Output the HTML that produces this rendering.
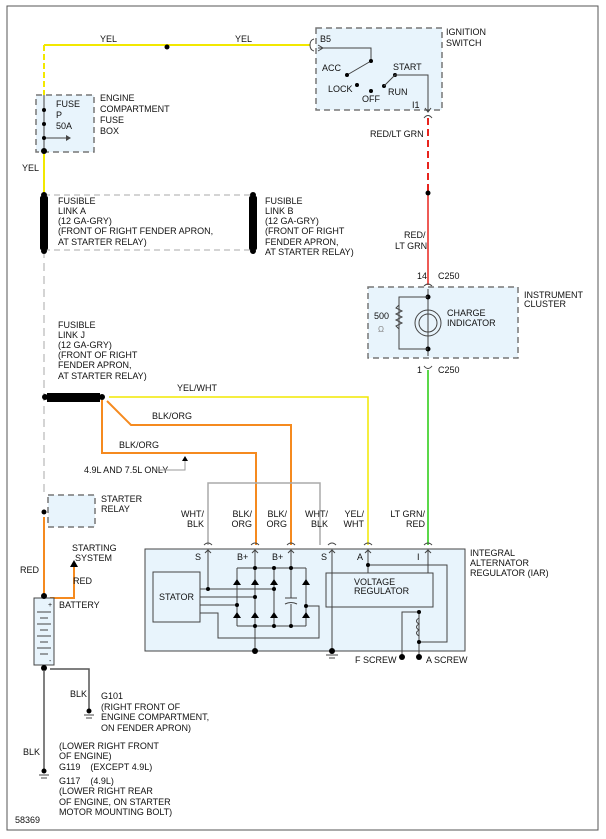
<!DOCTYPE html>
<html><head><style>
html,body{margin:0;padding:0;background:#fff}
svg{display:block}
text{font-family:"Liberation Sans",sans-serif;font-size:9px;fill:#111}
</style></head><body>
<svg width="606" height="839" viewBox="0 0 606 839" xmlns="http://www.w3.org/2000/svg">
<rect x="7" y="6" width="591" height="824" fill="none" stroke="#555" stroke-width="1"/>
<g fill="#e8f4fc" stroke="#777" stroke-width="1.5" stroke-dasharray="6,4">
<rect x="316" y="28" width="126" height="82"/>
<rect x="36" y="95" width="58" height="57"/>
<rect x="368" y="287" width="150" height="71"/>
<rect x="48" y="495" width="47" height="32"/>
</g>
<line x1="44" y1="195" x2="253" y2="195" stroke="#aaa" stroke-dasharray="6,4"/>
<line x1="44" y1="250" x2="253" y2="250" stroke="#aaa" stroke-dasharray="6,4"/>
<line x1="44" y1="250" x2="44" y2="495" stroke="#aaa" stroke-dasharray="8,5"/>
<line x1="44" y1="527" x2="44" y2="540" stroke="#aaa" stroke-dasharray="8,5"/>
<!-- yellow -->
<line x1="310" y1="45" x2="44" y2="45" stroke="#f2e800" stroke-width="2"/>
<line x1="44" y1="45" x2="44" y2="95" stroke="#f2e800" stroke-width="2" stroke-dasharray="6,3"/>
<line x1="44" y1="152" x2="44" y2="195" stroke="#f2e800" stroke-width="2"/>
<circle cx="167" cy="47" r="2.5" fill="#000"/>
<text x="100" y="42">YEL</text><text x="235" y="42">YEL</text><text x="22" y="171">YEL</text>
<!-- fuse -->
<line x1="44" y1="95" x2="44" y2="152" stroke="#444"/>
<line x1="44" y1="138" x2="70" y2="138" stroke="#444"/><path d="M66,135 L71,138 L66,141Z" fill="#444"/>
<circle cx="44" cy="110" r="2" fill="#000"/><circle cx="44" cy="124" r="2" fill="#000"/><circle cx="44" cy="138" r="2" fill="#000"/><circle cx="44" cy="151" r="3" fill="#000"/>
<text x="56" y="107">FUSE</text><text x="56" y="118">P</text><text x="56" y="129">50A</text>
<text x="100" y="101">ENGINE</text><text x="100" y="112">COMPARTMENT</text><text x="100" y="123">FUSE</text><text x="100" y="134">BOX</text>
<!-- fusible links -->
<rect x="40" y="196" width="8" height="54" rx="2" fill="#000"/><circle cx="44" cy="195" r="3" fill="#000"/><circle cx="44" cy="251" r="3" fill="#000"/>
<rect x="249" y="196" width="8" height="54" rx="2" fill="#000"/><circle cx="253" cy="195" r="3" fill="#000"/><circle cx="253" cy="251" r="3" fill="#000"/>
<text x="58" y="204">FUSIBLE</text><text x="58" y="214">LINK A</text><text x="58" y="224">(12 GA-GRY)</text><text x="58" y="234">(FRONT OF RIGHT FENDER APRON,</text><text x="58" y="245">AT STARTER RELAY)</text>
<text x="265" y="204">FUSIBLE</text><text x="265" y="214">LINK B</text><text x="265" y="224">(12 GA-GRY)</text><text x="265" y="234">(FRONT OF RIGHT</text><text x="265" y="245">FENDER APRON,</text><text x="265" y="255">AT STARTER RELAY)</text>
<text x="58" y="328">FUSIBLE</text><text x="58" y="338">LINK J</text><text x="58" y="348">(12 GA-GRY)</text><text x="58" y="358">(FRONT OF RIGHT</text><text x="58" y="368">FENDER APRON,</text><text x="58" y="379">AT STARTER RELAY)</text>
<rect x="47" y="393" width="53" height="9" fill="#000"/><circle cx="45" cy="397" r="3" fill="#000"/><circle cx="102" cy="397" r="3" fill="#000"/>
<!-- wires from J -->
<polyline points="109,397 368,397 368,545" fill="none" stroke="#f2e800" stroke-width="1.5"/>
<polyline points="107,401 131,425 291,425 291,545" fill="none" stroke="#f58a1f" stroke-width="2"/>
<polyline points="102,400 102,453 256,453 256,545" fill="none" stroke="#f58a1f" stroke-width="2"/>
<text x="177" y="391">YEL/WHT</text><text x="152" y="419">BLK/ORG</text><text x="119" y="448">BLK/ORG</text>
<text x="84" y="473">4.9L AND 7.5L ONLY</text>
<polyline points="152,470 185,470 185,460" fill="none" stroke="#999"/><path d="M182,461 L185,456 L188,461Z" fill="#000"/>
<polyline points="208,545 208,483 320,483 320,545" fill="none" stroke="#aaa" stroke-width="1.5"/>
<!-- ignition -->
<polyline points="428,118 428,193" stroke="#e8241d" stroke-width="2" stroke-dasharray="7,4" fill="none"/>
<line x1="428" y1="193" x2="428" y2="285" stroke="#e8241d" stroke-width="1.5"/>
<circle cx="428" cy="193" r="2.5" fill="#000"/>
<text x="370" y="137">RED/LT GRN</text><text x="404" y="238">RED/</text><text x="395" y="249">LT GRN</text>
<path d="M310,45 q0,-5 4,-6 M310,45 q0,5 4,6" stroke="#444" fill="none"/>
<polyline points="318,48 371,48 371,61 347,75" fill="none" stroke="#444"/><path d="M318,45 L323,48 L318,51" fill="none" stroke="#444"/>
<circle cx="371" cy="61" r="2" fill="#000"/><circle cx="347" cy="75" r="2" fill="#000"/>
<circle cx="357" cy="85" r="2" fill="#000"/><circle cx="371" cy="91" r="2" fill="#000"/><circle cx="384" cy="86" r="2" fill="#000"/><circle cx="395" cy="75" r="2" fill="#000"/>
<polyline points="384,86 395,75 428,75 428,112" fill="none" stroke="#444"/><path d="M425,108 L428,112 L431,108" fill="none" stroke="#444"/>
<path d="M424,118 q4,-5 8,0" stroke="#444" fill="none"/>
<text x="320" y="42">B5</text><text x="322" y="71">ACC</text><text x="328" y="92">LOCK</text><text x="362" y="102">OFF</text><text x="388" y="95">RUN</text><text x="393" y="70">START</text><text x="412" y="108">I1</text>
<text x="446" y="35">IGNITION</text><text x="446" y="46">SWITCH</text>
<!-- cluster -->
<text x="417" y="279">14</text><text x="438" y="279">C250</text>
<path d="M424,286 q4,-4 8,0" stroke="#444" fill="none"/>
<line x1="428" y1="289" x2="428" y2="356" stroke="#444"/>
<circle cx="428" cy="297" r="2.5" fill="#000"/><circle cx="428" cy="349" r="2.5" fill="#000"/>
<polyline points="428,297 399,297 399,349 428,349" fill="none" stroke="#444"/>
<path d="M399,305 l-3,3 6,3 -6,3 6,3 -6,3 6,3 -6,3 3,3" stroke="#444" fill="none"/>
<circle cx="428" cy="323" r="13" fill="none" stroke="#444"/><circle cx="428" cy="323" r="9" fill="none" stroke="#444"/>
<text x="374" y="319">500</text><text x="378" y="332" style="font-size:8px;fill:#888">Ω</text>
<text x="447" y="316">CHARGE</text><text x="447" y="326">INDICATOR</text>
<text x="524" y="298">INSTRUMENT</text><text x="524" y="307">CLUSTER</text>
<text x="417" y="373">1</text><text x="438" y="373">C250</text>
<path d="M424,366 q4,5 8,0" stroke="#444" fill="none"/>
<line x1="428" y1="370" x2="428" y2="545" stroke="#5bd84a" stroke-width="2"/>
<!-- wire labels alt -->
<g text-anchor="end"><text x="204" y="517">WHT/</text><text x="204" y="527">BLK</text>
<text x="252" y="517">BLK/</text><text x="252" y="527">ORG</text>
<text x="287" y="517">BLK/</text><text x="287" y="527">ORG</text>
<text x="328" y="517">WHT/</text><text x="328" y="527">BLK</text>
<text x="364" y="517">YEL/</text><text x="364" y="527">WHT</text>
<text x="425" y="517">LT GRN/</text><text x="425" y="527">RED</text></g>
<!-- alternator -->
<rect x="145" y="549" width="320" height="102" fill="#e8f4fc" stroke="#444"/>
<g stroke="#444" fill="none">
<path d="M204,545 q4,-4 8,0 M251,545 q4,-4 8,0 M287,545 q4,-4 8,0 M328,545 q4,-4 8,0 M364,545 q4,-4 8,0 M424,545 q4,-4 8,0"/>
<path d="M205,553 L208,550 L211,553 M252,553 L255,550 L258,553 M288,553 L291,550 L294,553 M329,553 L332,550 L335,553 M365,553 L368,550 L371,553 M425,553 L428,550 L431,553"/>
<rect x="153" y="572" width="47" height="50"/>
<polyline points="208,550 208,589 200,589"/>
<line x1="200" y1="589" x2="274" y2="589"/>
<line x1="200" y1="597" x2="255" y2="597"/>
<line x1="200" y1="605" x2="237" y2="605"/>
<polyline points="200,613 218,613 218,638 319,638 319,606 306,606"/>
<line x1="237" y1="568" x2="306" y2="568"/><line x1="237" y1="626" x2="306" y2="626"/>
<line x1="237" y1="568" x2="237" y2="626"/><line x1="255" y1="550" x2="255" y2="651"/><line x1="274" y1="568" x2="274" y2="626"/><line x1="306" y1="568" x2="306" y2="626"/>
<line x1="291" y1="550" x2="291" y2="598"/><line x1="291" y1="604" x2="291" y2="626"/>
<line x1="285" y1="598" x2="297" y2="598"/><path d="M285,604 q6,-3 12,0"/>
<line x1="332" y1="550" x2="332" y2="651"/>
<line x1="255" y1="651" x2="332" y2="651"/>
<rect x="326" y="573" width="107" height="34"/>
<polyline points="368,550 368,573"/><polyline points="368,565 447,565 447,642 419,642"/>
<line x1="428" y1="550" x2="428" y2="573"/>
<polyline points="402,657 402,612 419,612 419,657"/>
<path d="M419,618 q-5,3 0,6 q-5,3 0,6 q-5,3 0,6" stroke="#444"/>
<line x1="326" y1="655" x2="338" y2="655"/><line x1="329" y1="658" x2="335" y2="658"/>
</g>
<g fill="#000">
<path d="M233,585 h8 l-4,-6z M251,585 h8 l-4,-6z M270,585 h8 l-4,-6z M302,585 h8 l-4,-6z M233,618 h8 l-4,-6z M251,618 h8 l-4,-6z M270,618 h8 l-4,-6z M302,618 h8 l-4,-6z"/>
<circle cx="255" cy="568" r="2"/><circle cx="274" cy="568" r="2"/><circle cx="291" cy="568" r="2"/>
<circle cx="208" cy="589" r="2"/><circle cx="274" cy="589" r="2"/><circle cx="255" cy="597" r="2"/><circle cx="237" cy="605" r="2"/><circle cx="306" cy="606" r="2"/>
<circle cx="255" cy="626" r="2"/><circle cx="274" cy="626" r="2"/><circle cx="291" cy="626" r="2"/>
<circle cx="255" cy="651" r="3"/><circle cx="332" cy="651" r="3"/><circle cx="368" cy="565" r="2"/>
<circle cx="419" cy="612" r="2"/><circle cx="419" cy="642" r="2"/><circle cx="402" cy="657" r="3"/><circle cx="419" cy="657" r="3"/>
</g>
<text x="195" y="560">S</text><text x="237" y="560">B+</text><text x="272" y="560">B+</text><text x="321" y="560">S</text><text x="357" y="560">A</text><text x="417" y="560">I</text>
<text x="159" y="600">STATOR</text><text x="354" y="585">VOLTAGE</text><text x="354" y="594">REGULATOR</text>
<text x="355" y="663">F SCREW</text><text x="426" y="663">A SCREW</text>
<text x="470" y="556">INTEGRAL</text><text x="470" y="566">ALTERNATOR</text><text x="470" y="576">REGULATOR (IAR)</text>
<!-- starter / battery -->
<text x="101" y="502">STARTER</text><text x="101" y="512">RELAY</text>
<circle cx="44" cy="512" r="2.5" fill="#000"/>
<line x1="44" y1="517" x2="44" y2="597" stroke="#f58a1f" stroke-width="2"/>
<polyline points="50,598 74,598 74,566" fill="none" stroke="#f58a1f" stroke-width="2"/>
<path d="M70,567 L74,560 L78,567Z" fill="#000"/>
<text x="20" y="573">RED</text><text x="73" y="584">RED</text>
<text x="72" y="551">STARTING</text><text x="75" y="561">SYSTEM</text>
<rect x="34" y="598" width="20" height="67" fill="#e8f4fc" stroke="#444"/>
<text x="48" y="607" style="font-size:7px">+</text><text x="49" y="663" style="font-size:7px">-</text>
<g stroke="#444"><line x1="37" y1="612" x2="51" y2="612"/><line x1="40" y1="618" x2="48" y2="618"/><line x1="37" y1="624" x2="51" y2="624"/><line x1="40" y1="630" x2="48" y2="630"/><line x1="37" y1="636" x2="51" y2="636"/><line x1="40" y1="642" x2="48" y2="642"/><line x1="37" y1="648" x2="51" y2="648"/><line x1="40" y1="654" x2="48" y2="654"/></g>
<circle cx="44" cy="596" r="3" fill="#000"/><circle cx="44" cy="668" r="3" fill="#000"/>
<text x="59" y="608">BATTERY</text>
<polyline points="50,669 89,669 89,710" fill="none" stroke="#555" stroke-width="1.5"/>
<line x1="44" y1="670" x2="44" y2="769" stroke="#555" stroke-width="1.5"/>
<circle cx="89" cy="711" r="2.5" fill="#000"/><line x1="84" y1="715" x2="94" y2="715" stroke="#444"/><line x1="86" y1="718" x2="92" y2="718" stroke="#444"/>
<circle cx="44" cy="771" r="2.5" fill="#000"/><line x1="39" y1="775" x2="49" y2="775" stroke="#444"/><line x1="41" y1="778" x2="47" y2="778" stroke="#444"/>
<text x="70" y="697">BLK</text><text x="23" y="755">BLK</text>
<text x="101" y="699">G101</text><text x="101" y="710">(RIGHT FRONT OF</text><text x="101" y="720">ENGINE COMPARTMENT,</text><text x="101" y="731">ON FENDER APRON)</text>
<text x="59" y="749">(LOWER RIGHT FRONT</text><text x="59" y="759">OF ENGINE)</text><text x="59" y="770">G119 &#160;&#160;&#160;(EXCEPT 4.9L)</text>
<text x="59" y="784">G117 &#160;&#160;&#160;(4.9L)</text><text x="59" y="794">(LOWER RIGHT REAR</text><text x="59" y="805">OF ENGINE, ON STARTER</text><text x="59" y="815">MOTOR MOUNTING BOLT)</text>
<text x="15" y="823">58369</text>
</svg>
</body></html>
